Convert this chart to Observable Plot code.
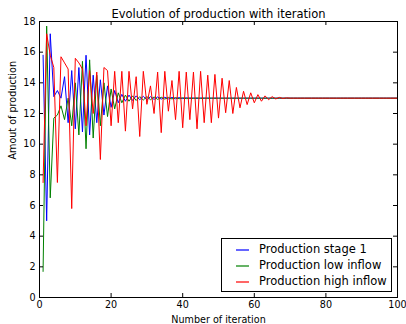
<!DOCTYPE html>
<html>
<head>
<meta charset="utf-8">
<script src="https://cdn.jsdelivr.net/npm/d3@7"></script>
<script src="https://cdn.jsdelivr.net/npm/@observablehq/plot@0.6"></script>
<style>
  html, body { margin: 0; padding: 0; background: #fff; }
  #wrap { position: relative; width: 406px; height: 324px; font-family: "DejaVu Sans", sans-serif; }
  #legend { position: absolute; left: 221px; top: 238px; width: 169px; height: 52px;
            border: 1px solid #000; background: #fff; box-sizing: content-box; }
  .row { position: absolute; left: 0; height: 16px; width: 100%; }
  .swatch { position: absolute; left: 14px; width: 13px; height: 2px; top: 8px; opacity: 0.6; }
  .lab { position: absolute; left: 37px; top: 0; font-size: 11.5px; line-height: 16px; color: #000; white-space: nowrap; }
</style>
</head>
<body>
<div id="wrap"></div>
<script>
const title = "Evolution of production with iteration";
const xLabel = "Number of iteration";
const yLabel = "Amout of production";
const seriesNames = ["Production stage 1", "Production low inflow", "Production high inflow"];
const seriesColors = ["#0000ff", "#008000", "#ff0000"];
const xTicks = [0, 20, 40, 60, 80, 100];
const yTicks = [0, 2, 4, 6, 8, 10, 12, 14, 16, 18];

// values for iterations 1..100
const stage1 = [
  15.8, 5.0, 17.2, 13.1, 13.5, 13.0, 14.4, 11.4, 14.8, 11.0,
  15.0, 10.8, 15.8, 10.6, 14.5, 11.4, 14.2, 11.9, 13.8, 12.4,
  13.5, 12.7, 13.25, 12.8, 13.2, 12.85, 13.15, 12.9, 13.12, 12.9,
  13.1, 12.92, 13.08, 12.94, 13.06, 12.95, 13.05, 12.96, 13.04, 12.97,
  13.03, 12.98, 13.02, 12.98, 13.02, 12.99, 13.01, 12.99, 13.01, 13.0,
  13, 13, 13, 13, 13, 13, 13, 13, 13, 13,
  13, 13, 13, 13, 13, 13, 13, 13, 13, 13,
  13, 13, 13, 13, 13, 13, 13, 13, 13, 13,
  13, 13, 13, 13, 13, 13, 13, 13, 13, 13,
  13, 13, 13, 13, 13, 13, 13, 13, 13, 13
];
const lowInflow = [
  1.7, 17.7, 6.5, 11.7, 11.9, 12.5, 11.6, 13.0, 11.2, 14.0,
  10.6, 15.4, 9.7, 15.5, 10.4, 14.5, 11.2, 14.0, 11.8, 13.6,
  12.3, 13.35, 12.7, 13.2, 12.8, 13.15, 12.85, 13.1, 12.88, 13.1,
  12.9, 13.08, 12.92, 13.06, 12.94, 13.05, 12.95, 13.04, 12.96, 13.03,
  12.97, 13.02, 12.98, 13.02, 12.98, 13.01, 12.99, 13.01, 12.99, 13.0,
  13, 13, 13, 13, 13, 13, 13, 13, 13, 13,
  13, 13, 13, 13, 13, 13, 13, 13, 13, 13,
  13, 13, 13, 13, 13, 13, 13, 13, 13, 13,
  13, 13, 13, 13, 13, 13, 13, 13, 13, 13,
  13, 13, 13, 13, 13, 13, 13, 13, 13, 13
];
const highInflow = [
  7.5, 17.2, 15.8, 15.0, 7.5, 15.7, 15.3, 14.9, 5.8, 15.6,
  15.3, 14.9, 11.2, 14.8, 12.0, 14.7, 9.0, 15.0, 14.8, 11.2,
  14.75, 11.4, 14.75, 10.85, 14.75, 12.3, 14.4, 10.5, 14.75, 12.6,
  13.8, 12.0, 14.7, 10.75, 14.75, 12.15, 14.15, 11.6, 14.75, 11.07,
  14.7, 11.6, 14.7, 11.0, 14.75, 11.4, 14.5, 11.4, 14.55, 11.7,
  14.3, 12.05, 14.15, 12.0, 13.7, 12.37, 13.45, 12.58, 13.35, 12.7,
  13.23, 12.8, 13.15, 12.9, 13.1, 12.95, 13.05, 12.98, 13.02, 13,
  13, 13, 13, 13, 13, 13, 13, 13, 13, 13,
  13, 13, 13, 13, 13, 13, 13, 13, 13, 13,
  13, 13, 13, 13, 13, 13, 13, 13, 13, 13
];

const allSeries = [stage1, lowInflow, highInflow];
const rows = allSeries.flatMap((vals, s) => vals.map((v, i) => ({series: seriesNames[s], iter: i + 1, value: v})));

const W = 406, H = 324, mL = 39, mR = 9, mT = 21, mB = 27;
const innerH = H - mT - mB, innerW = W - mL - mR;
const tick = 4;

const chart = Plot.plot({
  width: W, height: H,
  marginLeft: mL, marginRight: mR, marginTop: mT, marginBottom: mB,
  style: {fontFamily: "DejaVu Sans, sans-serif", fontSize: "9.6px", background: "#fff", color: "#000"},
  x: {domain: [0, 100], label: null},
  y: {domain: [0, 18], label: null},
  color: {domain: seriesNames, range: seriesColors},
  marks: [
    ...seriesNames.map(name => Plot.line(rows.filter(d => d.series === name),
      {x: "iter", y: "value", stroke: "series", strokeWidth: 1})),
    Plot.frame({stroke: "#000", strokeWidth: 1}),
    Plot.tickX(xTicks, {x: d => d, insetTop: innerH - tick, stroke: "#000"}),
    Plot.tickX(xTicks, {x: d => d, insetBottom: innerH - tick, stroke: "#000"}),
    Plot.tickY(yTicks, {y: d => d, insetRight: innerW - tick, stroke: "#000"}),
    Plot.tickY(yTicks, {y: d => d, insetLeft: innerW - tick, stroke: "#000"}),
    Plot.axisX(xTicks, {tickSize: 0, tickPadding: 4, label: null, fontSize: 9.6}),
    Plot.axisY(yTicks, {tickSize: 0, tickPadding: 4, label: null, fontSize: 9.6}),
    Plot.text([title], {frameAnchor: "top", lineAnchor: "bottom", dy: -4, fontSize: 11.5, fill: "#000"}),
    Plot.text([xLabel], {frameAnchor: "bottom", lineAnchor: "middle", dy: 22, fontSize: 9.6, fill: "#000"}),
    Plot.text([yLabel], {frameAnchor: "left", dx: -27, rotate: -90, fontSize: 9.6, fill: "#000"})
  ]
});

const wrap = document.getElementById("wrap");
wrap.appendChild(chart);
chart.style.position = "absolute"; chart.style.left = "0"; chart.style.top = "0";

const legend = document.createElement("div");
legend.id = "legend";
seriesNames.forEach((name, i) => {
  const row = document.createElement("div");
  row.className = "row";
  row.style.top = Math.round(2 + i * 16) + "px";
  const sw = document.createElement("div");
  sw.className = "swatch";
  sw.style.background = seriesColors[i];
  const lab = document.createElement("div");
  lab.className = "lab";
  lab.textContent = name;
  row.appendChild(sw); row.appendChild(lab);
  legend.appendChild(row);
});
wrap.appendChild(legend);
</script>
</body>
</html>
